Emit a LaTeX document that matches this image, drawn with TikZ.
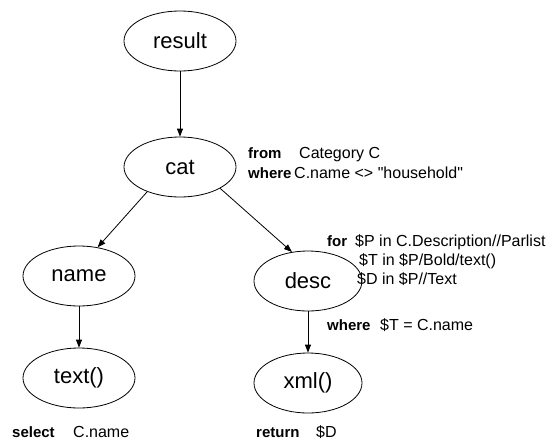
\documentclass[tikz,border=0pt]{standalone}
\usepackage{fontspec}
\setmainfont{Liberation Sans}
\usetikzlibrary{shapes.geometric,arrows.meta}
\begin{document}
\begin{tikzpicture}[x=1pt,y=-1pt,
  treenode/.style={draw, ellipse, line width=0.8pt, minimum width=112pt,
    minimum height=60pt, inner sep=0pt, font=\fontsize{22}{26}\selectfont},
  kw/.style={anchor=base west, inner sep=0pt, font=\fontsize{15}{18}\selectfont\bfseries},
  txt/.style={anchor=base west, inner sep=0pt, font=\fontsize{16}{19}\selectfont},
  arr/.style={-{Triangle[length=8pt,width=6pt]}, line width=0.8pt}]
  \useasboundingbox (0,0) rectangle (550,440);

  % tree nodes
  \node[treenode] (result) at (180,41)  {result};
  \node[treenode] (cat)    at (180,167) {cat};
  \node[treenode] (name)   at (79,276)  {name};
  \node[treenode] (text)   at (79,378)  {text()};
  \node[treenode, minimum width=108pt] (desc) at (308,281) {desc};
  \node[treenode, minimum width=108pt] (xml)  at (308,383) {xml()};

  % edges
  \draw[arr] (result.south) -- (cat.north);
  \draw[arr] (cat.217) -- (name.57);
  \draw[arr] (cat.-28) -- (desc.119);
  \draw[arr] (name.south) -- (text.north);
  \draw[arr] (desc.south) -- (xml.north);

  % query clauses
  \node[kw]  (kfrom)   at (248,158) {from};
  \node[txt] (vfrom)   at (299,158) {Category C};
  \node[kw]  (kwhere1) at (248,178) {where};
  \node[txt] (vwhere1) at (294,178) {C.name <> \textquotedbl household\textquotedbl};

  \node[kw]  (kfor)    at (327,246) {for};
  \node[txt] (vfor1)   at (355,246) {\$P in C.Description//Parlist};
  \node[txt] (vfor2)   at (359,265) {\$T in \$P/Bold/text()};
  \node[txt] (vfor3)   at (357,284) {\$D in \$P//Text};
  \node[kw]  (kwhere2) at (327,330) {where};
  \node[txt] (vwhere2) at (380,330) {\$T = C.name};

  \node[kw]  (kselect) at (12,437)  {select};
  \node[txt] (vselect) at (73,437)  {C.name};
  \node[kw]  (kreturn) at (256,437) {return};
  \node[txt] (vreturn) at (316,437) {\$D};
\end{tikzpicture}
\end{document}
